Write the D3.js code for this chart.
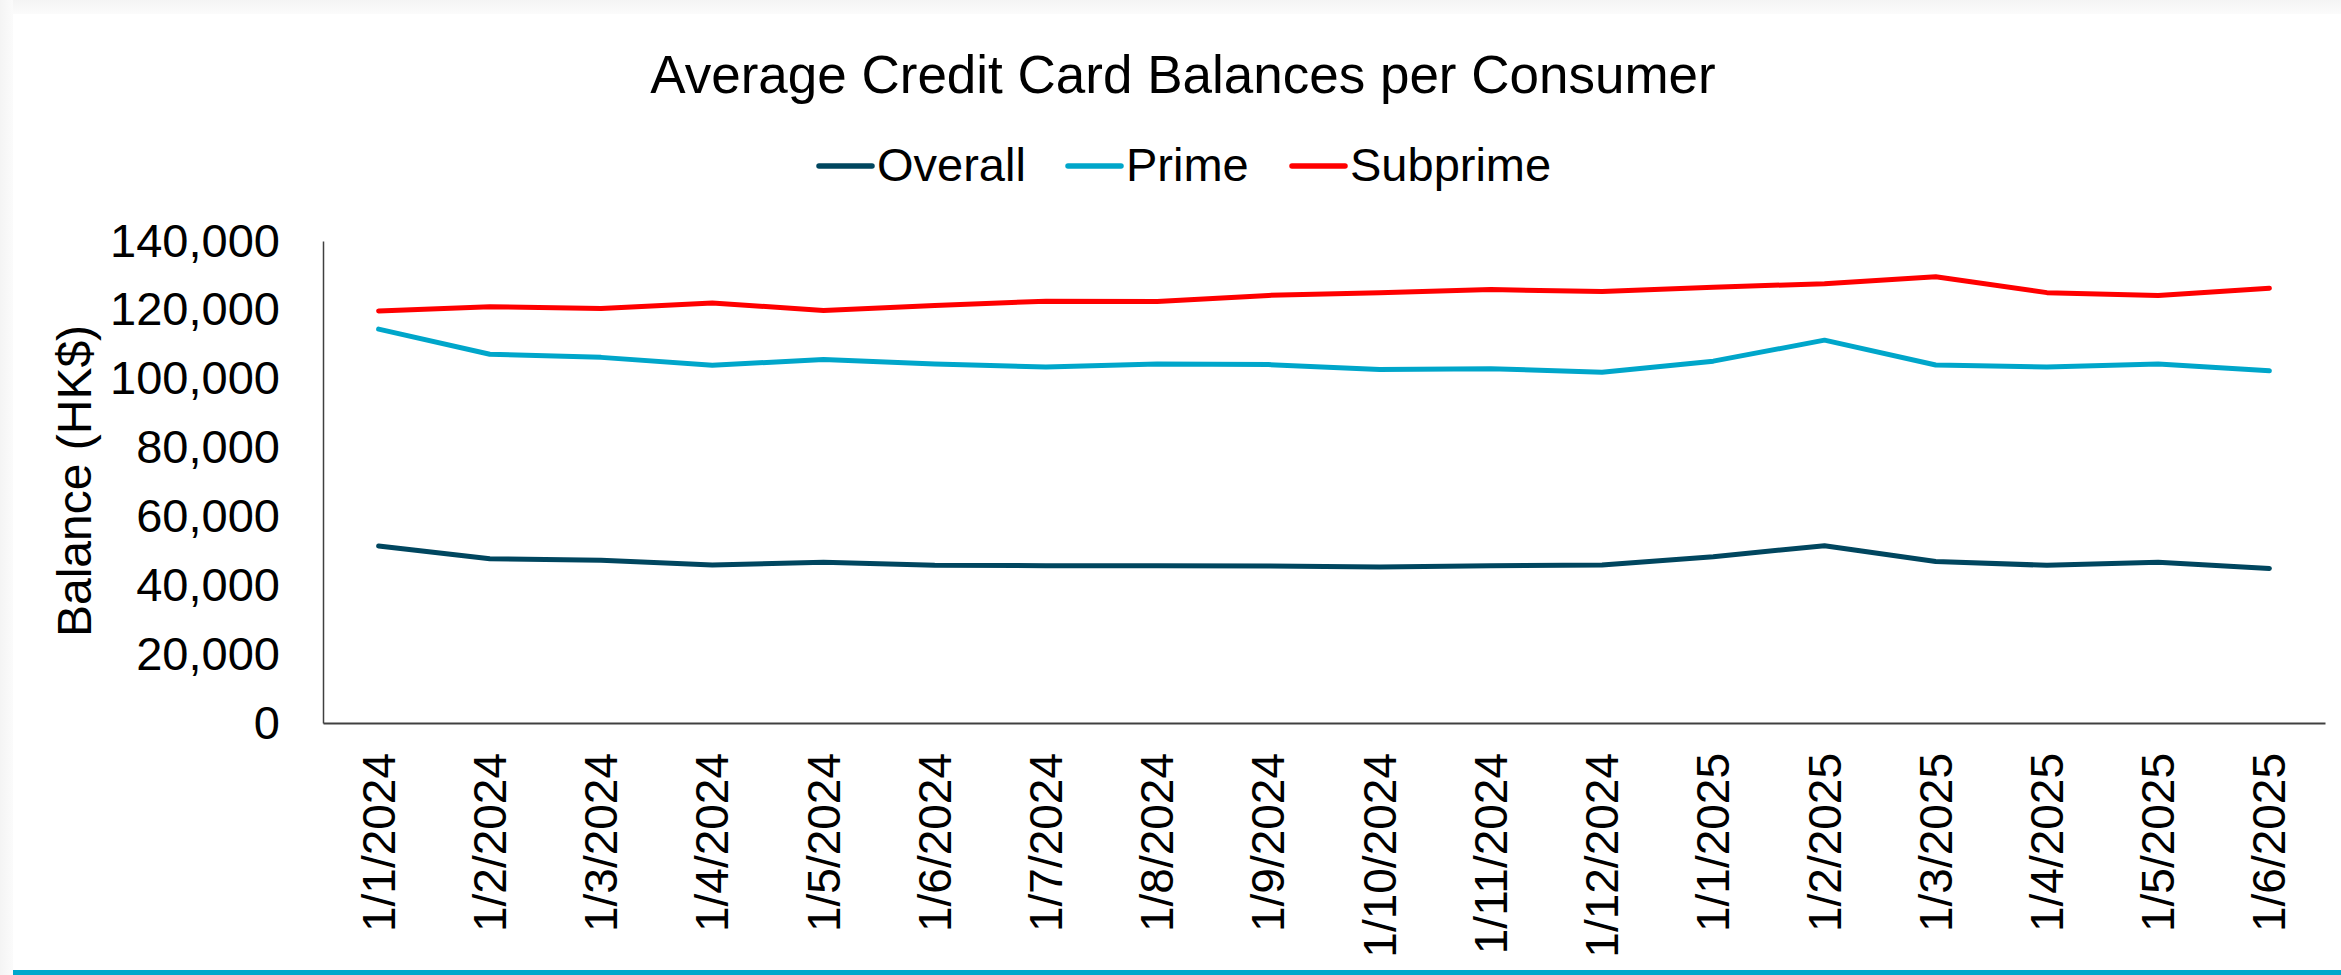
<!DOCTYPE html>
<html>
<head>
<meta charset="utf-8">
<script src="https://cdn.jsdelivr.net/npm/d3@7"></script>
<style>
  html, body { margin: 0; padding: 0; background: #ffffff; }
  svg { display: block; font-family: "Liberation Sans", Arial, sans-serif; }
</style>
</head>
<body>
<svg id="chart" width="2341" height="975"></svg>
<script>
// Monthly snapshot dates (d/m/yyyy)
const months = ["1/1/2024","1/2/2024","1/3/2024","1/4/2024","1/5/2024","1/6/2024",
  "1/7/2024","1/8/2024","1/9/2024","1/10/2024","1/11/2024","1/12/2024",
  "1/1/2025","1/2/2025","1/3/2025","1/4/2025","1/5/2025","1/6/2025"];

// Average balance per consumer, HK$
const overall  = [51400, 47700, 47300, 45900, 46700, 45800, 45700, 45700, 45600,
  45300, 45700, 45900, 48300, 51500, 46900, 45800, 46700, 44900];
const prime    = [114400, 107100, 106200, 103900, 105600, 104300, 103400, 104300, 104100,
  102700, 102900, 101900, 105100, 111200, 104000, 103400, 104300, 102300];
const subprime = [119700, 120900, 120400, 122000, 119800, 121300, 122500, 122400, 124200,
  125000, 125900, 125300, 126600, 127600, 129600, 125000, 124200, 126300];

const seriesNames  = ["Overall", "Prime", "Subprime"];
const seriesColors = ["#00465F", "#00A6CA", "#FF0000"];
const yTicks = [0, 20000, 40000, 60000, 80000, 100000, 120000, 140000];

const series = [overall, prime, subprime].map((vals, i) => ({
  name: seriesNames[i], color: seriesColors[i], values: vals
}));

const W = 2341, H = 975;
const plot = { left: 323, right: 2325, top: 241, bottom: 723 };
const svg = d3.select("#chart");

// soft frame shading along the top and left edges
const defs = svg.append("defs");
const gTop = defs.append("linearGradient").attr("id", "shTop")
  .attr("x1", 0).attr("y1", 0).attr("x2", 0).attr("y2", 1);
gTop.append("stop").attr("offset", 0).attr("stop-color", "#f4f4f4");
gTop.append("stop").attr("offset", 1).attr("stop-color", "#fbfbfb");
const gLeft = defs.append("linearGradient").attr("id", "shLeft")
  .attr("x1", 0).attr("y1", 0).attr("x2", 1).attr("y2", 0);
gLeft.append("stop").attr("offset", 0).attr("stop-color", "#f4f4f4");
gLeft.append("stop").attr("offset", 1).attr("stop-color", "#fbfbfb");
svg.append("rect").attr("x", 0).attr("y", 0).attr("width", W).attr("height", 14).attr("fill", "url(#shTop)");
svg.append("rect").attr("x", 0).attr("y", 0).attr("width", 13).attr("height", H).attr("fill", "url(#shLeft)");

// bottom accent rule
svg.append("rect").attr("x", 13).attr("y", 970).attr("width", W - 13).attr("height", 5).attr("fill", "#00A8CC");

const x = d3.scaleBand().domain(months).range([plot.left, plot.right]);
const y = d3.scaleLinear().domain([0, 140000]).range([plot.bottom, plot.top]);

// title
svg.append("text")
  .attr("x", 1183).attr("y", 93)
  .attr("text-anchor", "middle")
  .attr("font-size", 53)
  .attr("fill", "#000")
  .text("Average Credit Card Balances per Consumer");

// legend
const legendPos = [817, 1066, 1290];
const legend = svg.append("g");
series.forEach((s, i) => {
  const lx = legendPos[i];
  legend.append("line")
    .attr("x1", lx + 2).attr("x2", lx + 55)
    .attr("y1", 166).attr("y2", 166)
    .attr("stroke", s.color).attr("stroke-width", 5.5)
    .attr("stroke-linecap", "round");
  legend.append("text")
    .attr("x", lx + 60).attr("y", 181)
    .attr("font-size", 47)
    .attr("fill", "#000")
    .text(s.name);
});

// y axis
const yAxis = d3.axisLeft(y)
  .tickValues(yTicks)
  .tickSize(0)
  .tickPadding(43)
  .tickFormat(d3.format(","));
const gy = svg.append("g").attr("transform", `translate(${plot.left},0)`).call(yAxis);
gy.select(".domain").attr("stroke", "#404040").attr("stroke-width", 1.5);
gy.selectAll("text").attr("font-size", 47).attr("fill", "#000")
  .attr("font-family", "'Liberation Sans', Arial, sans-serif");

// x axis
const xAxis = d3.axisBottom(x).tickSize(0).tickPadding(0);
const gx = svg.append("g").attr("transform", `translate(0,${plot.bottom})`).call(xAxis);
gx.select(".domain").attr("stroke", "#404040").attr("stroke-width", 2);
gx.selectAll("text")
  .attr("font-size", 46).attr("fill", "#000")
  .attr("font-family", "'Liberation Sans', Arial, sans-serif")
  .attr("text-anchor", "end")
  .attr("dy", null)
  .attr("y", 0)
  .attr("transform", "translate(16,30) rotate(-90)");

// y axis title
svg.append("text")
  .attr("transform", "translate(91,481) rotate(-90)")
  .attr("text-anchor", "middle")
  .attr("font-size", 48)
  .attr("fill", "#000")
  .text("Balance (HK$)");

// series lines
const line = d3.line()
  .x((d, i) => x(months[i]) + x.bandwidth() / 2)
  .y(d => y(d));

svg.append("g").selectAll("path")
  .data(series)
  .join("path")
  .attr("d", s => line(s.values))
  .attr("fill", "none")
  .attr("stroke", s => s.color)
  .attr("stroke-width", 5)
  .attr("stroke-linejoin", "round")
  .attr("stroke-linecap", "round");
</script>
</body>
</html>
